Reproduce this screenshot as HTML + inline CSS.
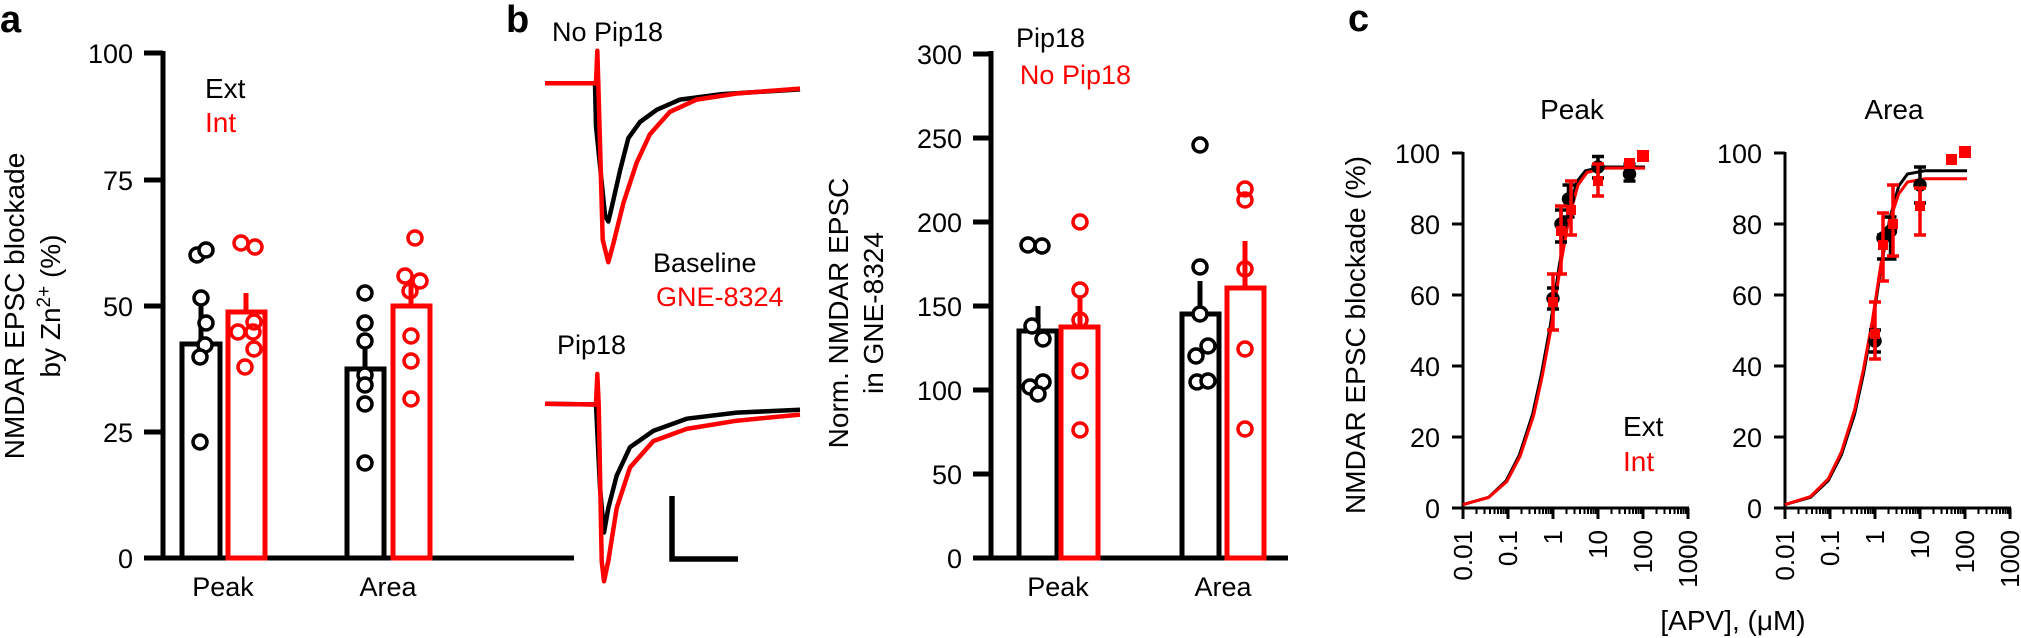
<!DOCTYPE html>
<html><head><meta charset="utf-8"><style>
html,body{margin:0;padding:0;background:#fff;}
svg{display:block;}
text{font-family:"Liberation Sans",Arial,sans-serif;}
</style></head><body>
<svg width="2021" height="638" viewBox="0 0 2021 638" xmlns="http://www.w3.org/2000/svg">
<!-- Panel a -->
<text x="0" y="32" font-size="38" font-weight="bold">a</text>
<g stroke="#000" stroke-width="5" fill="none">
<line x1="163" y1="51" x2="163" y2="560"/>
<line x1="144" y1="53" x2="163" y2="53"/><line x1="144" y1="180" x2="163" y2="180"/>
<line x1="144" y1="306" x2="163" y2="306"/><line x1="144" y1="432" x2="163" y2="432"/>
<line x1="144" y1="558" x2="163" y2="558"/>
<line x1="163" y1="558" x2="574" y2="558"/>
</g>
<g font-size="27" text-anchor="end">
<text x="133" y="63">100</text><text x="133" y="190">75</text><text x="133" y="316">50</text><text x="133" y="442">25</text><text x="133" y="568">0</text>
</g>
<text transform="translate(24,306) rotate(-90)" font-size="28" text-anchor="middle">NMDAR EPSC blockade</text>
<text transform="translate(60,306) rotate(-90)" font-size="28" text-anchor="middle">by Zn<tspan dy="-10" font-size="19">2+</tspan><tspan dy="10"> (%)</tspan></text>
<text x="205" y="98" font-size="28">Ext</text>
<text x="205" y="132" font-size="28" fill="#f00">Int</text>
<g fill="none" stroke-width="5">
<rect x="182" y="344" width="38" height="214" stroke="#000"/>
<line x1="201" y1="344" x2="201" y2="298" stroke="#000"/>
<rect x="228" y="312" width="37" height="246" stroke="#f00"/>
<line x1="246" y1="312" x2="246" y2="293" stroke="#f00"/>
<rect x="347" y="369" width="37" height="189" stroke="#000"/>
<line x1="365" y1="369" x2="365" y2="349" stroke="#000"/>
<rect x="393" y="306" width="37" height="252" stroke="#f00"/>
<line x1="411" y1="306" x2="411" y2="285" stroke="#f00"/>
</g>
<g fill="#fff" stroke="#000" stroke-width="3.5">
<circle cx="197" cy="255" r="7"/><circle cx="206" cy="250" r="7"/><circle cx="201" cy="298" r="7"/><circle cx="206" cy="323" r="7"/><circle cx="205" cy="345" r="7"/><circle cx="200" cy="357" r="7"/><circle cx="200" cy="442" r="7"/>
<circle cx="365" cy="293" r="7"/><circle cx="365" cy="323" r="7"/><circle cx="365" cy="341" r="7"/><circle cx="365" cy="375" r="7"/><circle cx="365" cy="385" r="7"/><circle cx="365" cy="404" r="7"/><circle cx="365" cy="463" r="7"/>
</g>
<g fill="none" stroke="#f00" stroke-width="3.5">
<circle cx="241" cy="243" r="7"/><circle cx="255" cy="247" r="7"/><circle cx="254" cy="322" r="7"/><circle cx="238" cy="332" r="7"/><circle cx="253" cy="332" r="7"/><circle cx="254" cy="349" r="7"/><circle cx="245" cy="367" r="7"/>
<circle cx="415" cy="238" r="7"/><circle cx="405" cy="276" r="7"/><circle cx="420" cy="281" r="7"/><circle cx="410" cy="291" r="7"/><circle cx="411" cy="336" r="7"/><circle cx="411" cy="361" r="7"/><circle cx="411" cy="399" r="7"/>
</g>
<text x="223" y="596" font-size="27" text-anchor="middle">Peak</text>
<text x="388" y="596" font-size="27" text-anchor="middle">Area</text>

<!-- Panel b traces -->
<text x="506" y="32" font-size="38" font-weight="bold">b</text>
<text x="552" y="41" font-size="27">No Pip18</text>
<text x="557" y="354" font-size="27">Pip18</text>
<text x="653" y="272" font-size="27">Baseline</text>
<text x="656" y="306" font-size="27" fill="#f00">GNE-8324</text>
<g fill="none" stroke-width="4.5" stroke-linejoin="round">
<path d="M545,83.3 L595,83.3 L596,126 L605,215.4 L608.3,221.5 L611.7,207.3 L620,170.7 L628.3,138.2 L640,122 L656.7,109.8 L680,99.6 L720,94.3 L800,89.4" stroke="#000"/>
<path d="M545,83.3 L596,83.3 L597.3,50.8 L598.3,83.3 L602.7,239.8 L608.3,262.2 L613.3,243.9 L623.3,203.3 L636.7,162.6 L650,134.1 L670,111.8 L696.7,99.6 L736.7,93.5 L800,88.6" stroke="#f00"/>
<path d="M545,403.7 L596,404.5 L600,487.8 L604,532.5 L608.3,508.1 L616.7,475.6 L630,447.2 L653.3,430.9 L686.7,418.7 L736.7,412.6 L800,409.8" stroke="#000"/>
<path d="M545,403.7 L596,404.5 L597.3,374 L598.7,404.5 L601.7,561 L604,581.3 L608.3,561 L616.7,508.1 L630,467.5 L653.3,441.1 L686.7,428.9 L736.7,420.7 L800,414.6" stroke="#f00"/>
</g>
<path d="M672,496 L672,559 L738,559" fill="none" stroke="#000" stroke-width="5.5"/>

<!-- Panel b bars -->
<g stroke="#000" stroke-width="5" fill="none">
<line x1="991" y1="51" x2="991" y2="560"/>
<line x1="973" y1="54" x2="991" y2="54"/><line x1="973" y1="138" x2="991" y2="138"/>
<line x1="973" y1="222" x2="991" y2="222"/><line x1="973" y1="306" x2="991" y2="306"/>
<line x1="973" y1="390" x2="991" y2="390"/><line x1="973" y1="474" x2="991" y2="474"/>
<line x1="973" y1="558" x2="991" y2="558"/>
<line x1="991" y1="558" x2="1288" y2="558"/>
</g>
<g font-size="27" text-anchor="end">
<text x="962" y="64">300</text><text x="962" y="148">250</text><text x="962" y="232">200</text><text x="962" y="316">150</text><text x="962" y="400">100</text><text x="962" y="484">50</text><text x="962" y="568">0</text>
</g>
<text transform="translate(848,313) rotate(-90)" font-size="28" text-anchor="middle">Norm. NMDAR EPSC</text>
<text transform="translate(883,313) rotate(-90)" font-size="28" text-anchor="middle">in GNE-8324</text>
<text x="1085" y="47" font-size="27" text-anchor="end">Pip18</text>
<text x="1131" y="84" font-size="27" text-anchor="end" fill="#f00">No Pip18</text>
<g fill="none" stroke-width="5">
<rect x="1019" y="331" width="38" height="227" stroke="#000"/>
<line x1="1038" y1="331" x2="1038" y2="306" stroke="#000"/>
<rect x="1061" y="327" width="37" height="231" stroke="#f00"/>
<line x1="1080" y1="327" x2="1080" y2="298" stroke="#f00"/>
<rect x="1182" y="314" width="37" height="244" stroke="#000"/>
<line x1="1200" y1="314" x2="1200" y2="281" stroke="#000"/>
<rect x="1227" y="288" width="37" height="270" stroke="#f00"/>
<line x1="1245" y1="288" x2="1245" y2="241" stroke="#f00"/>
</g>
<g fill="#fff" stroke="#000" stroke-width="3.5">
<circle cx="1028" cy="245" r="7"/><circle cx="1042" cy="246" r="7"/><circle cx="1032" cy="326" r="7"/><circle cx="1043" cy="339" r="7"/><circle cx="1043" cy="382" r="7"/><circle cx="1030" cy="387" r="7"/><circle cx="1038" cy="394" r="7"/>
<circle cx="1200" cy="145" r="7"/><circle cx="1200" cy="267" r="7"/><circle cx="1200" cy="314" r="7"/><circle cx="1208" cy="346" r="7"/><circle cx="1196" cy="356" r="7"/><circle cx="1197" cy="382" r="7"/><circle cx="1208" cy="381" r="7"/>
</g>
<g fill="none" stroke="#f00" stroke-width="3.5">
<circle cx="1080" cy="222" r="7"/><circle cx="1080" cy="290" r="7"/><circle cx="1080" cy="320" r="7"/><circle cx="1080" cy="371" r="7"/><circle cx="1080" cy="430" r="7"/>
<circle cx="1245" cy="189" r="7"/><circle cx="1245" cy="200" r="7"/><circle cx="1245" cy="269" r="7"/><circle cx="1245" cy="349" r="7"/><circle cx="1245" cy="429" r="7"/>
</g>
<text x="1058" y="596" font-size="27" text-anchor="middle">Peak</text>
<text x="1223" y="596" font-size="27" text-anchor="middle">Area</text>

<!-- Panel c -->
<text x="1348" y="31" font-size="38" font-weight="bold">c</text>
<text transform="translate(1365,335) rotate(-90)" font-size="28" text-anchor="middle">NMDAR EPSC blockade (%)</text>
<text x="1733" y="630" font-size="28" text-anchor="middle">[APV], (μM)</text>
<text x="1623" y="436" font-size="28">Ext</text>
<text x="1623" y="471" font-size="28" fill="#f00">Int</text>
<text x="1572" y="119" font-size="28" text-anchor="middle">Peak</text>
<text x="1894" y="119" font-size="28" text-anchor="middle">Area</text>

<g id="sub">
<g stroke="#000" stroke-width="3" fill="none">
<line x1="1463" y1="152" x2="1463" y2="519"/>
<line x1="1452" y1="153" x2="1463" y2="153"/><line x1="1452" y1="224" x2="1463" y2="224"/>
<line x1="1452" y1="295" x2="1463" y2="295"/><line x1="1452" y1="366" x2="1463" y2="366"/>
<line x1="1452" y1="437" x2="1463" y2="437"/><line x1="1452" y1="508" x2="1463" y2="508"/>
<line x1="1452" y1="508" x2="1689" y2="508"/>
<path d="M1463,508v11M1508,508v11M1553,508v11M1598,508v11M1643,508v11M1688,508v11"/>
<path stroke-width="2" d="M1476.5,508v6M1484.5,508v6M1490,508v6M1494.5,508v6M1498,508v6M1501,508v6M1503.5,508v6M1505.9,508v6M1521.5,508v6M1529.5,508v6M1535,508v6M1539.5,508v6M1543,508v6M1546,508v6M1548.5,508v6M1550.9,508v6M1566.5,508v6M1574.5,508v6M1580,508v6M1584.5,508v6M1588,508v6M1591,508v6M1593.5,508v6M1595.9,508v6M1611.5,508v6M1619.5,508v6M1625,508v6M1629.5,508v6M1633,508v6M1636,508v6M1638.5,508v6M1640.9,508v6M1656.5,508v6M1664.5,508v6M1670,508v6M1674.5,508v6M1678,508v6M1681,508v6M1683.5,508v6M1685.9,508v6"/>
</g>
<g font-size="27" text-anchor="end">
<text x="1440" y="163">100</text><text x="1440" y="234">80</text><text x="1440" y="305">60</text><text x="1440" y="376">40</text><text x="1440" y="447">20</text><text x="1440" y="518">0</text>
</g>
<g font-size="26" text-anchor="end">
<text transform="translate(1472,530) rotate(-90)">0.01</text>
<text transform="translate(1517,530) rotate(-90)">0.1</text>
<text transform="translate(1562,530) rotate(-90)">1</text>
<text transform="translate(1607,530) rotate(-90)">10</text>
<text transform="translate(1652,530) rotate(-90)">100</text>
<text transform="translate(1697,530) rotate(-90)">1000</text>
</g>
</g>
<use href="#sub" transform="translate(322,0)"/>

<!-- curves left -->
<g fill="none" stroke-width="3">
<path d="M1463,504.6 L1488.6,497.3 L1506.2,480.7 L1519.4,454.9 L1532.6,414.2 L1541.5,373.7 L1550.3,325.7 L1559.1,266.6 L1567.9,215 L1576.7,181.8 L1585.5,170.7 L1603.1,167 L1645,167" stroke="#000"/>
<path d="M1463,504.6 L1488.6,497.5 L1506.8,481.5 L1520.2,456 L1533.6,415.5 L1542.5,375 L1551.3,327 L1560.1,268 L1569,218 L1578,185 L1587,172.5 L1604,168.1 L1645,168.1" stroke="#f00"/>
</g>
<g stroke="#000" stroke-width="3.5" fill="#000">
<path d="M1553,309v-21M1547,309h12M1547,288h12M1561,242v-32M1555,242h12M1555,210h12M1568.5,217v-32M1562.5,217h12M1562.5,185h12M1598,178v-21.5M1592,178h12M1592,156.5h12M1629.5,181v-17M1623.5,181h12M1623.5,164h12"/>
<circle cx="1553" cy="298.5" r="5"/><circle cx="1561" cy="224" r="5"/><circle cx="1568.5" cy="199" r="5"/><circle cx="1598" cy="167" r="5"/><circle cx="1629.5" cy="174" r="5"/>
</g>
<g stroke="#f00" stroke-width="3.5" fill="#f00">
<path d="M1553,330v-56M1547,330h12M1547,274h12M1561,274v-68M1555,274h12M1555,206h12M1571,235v-54M1565,235h12M1565,181h12M1598,196v-32M1592,196h12M1592,164h12"/>
<rect x="1548" y="297" width="10" height="10" stroke="none"/><rect x="1556" y="226" width="10" height="10" stroke="none"/><rect x="1566" y="205" width="10" height="10" stroke="none"/><rect x="1593" y="176" width="10" height="10" stroke="none"/><rect x="1624" y="158" width="11" height="11" stroke="none"/><rect x="1637" y="150" width="12" height="12" stroke="none"/>
</g>

<!-- curves right -->
<g fill="none" stroke-width="3">
<path d="M1785,504.6 L1810.6,497.3 L1828.2,480.7 L1841.4,454.9 L1854.6,414.2 L1863.5,373.7 L1872.3,325.7 L1881.1,266.6 L1889.9,218 L1898.7,186 L1907.5,174 L1925.1,170.7 L1967,170.7" stroke="#000"/>
<path d="M1785,504.6 L1810.6,496.5 L1828.2,479 L1841.4,452 L1854.6,410 L1863.5,369 L1872.3,321 L1881.1,263 L1889.9,220 L1898.7,194 L1907.5,182 L1925.1,178.8 L1967,178.8" stroke="#f00"/>
</g>
<g stroke="#000" stroke-width="3.5" fill="#000">
<path d="M1875,352v-22M1869,352h12M1869,330h12M1883,259v-24M1877,259h12M1877,235h12M1890.5,259v-42M1884.5,259h12M1884.5,217h12M1920,203v-36M1914,203h12M1914,167h12"/>
<circle cx="1875" cy="341" r="5"/><circle cx="1883" cy="238" r="5"/><circle cx="1890.5" cy="231" r="5"/><circle cx="1920" cy="185" r="5"/>
</g>
<g stroke="#f00" stroke-width="3.5" fill="#f00">
<path d="M1875,359v-57M1869,359h12M1869,302h12M1883,281v-68M1877,281h12M1877,213h12M1893,256v-71M1887,256h12M1887,185h12M1920,235v-47M1914,235h12M1914,188h12"/>
<rect x="1870" y="329" width="10" height="10" stroke="none"/><rect x="1878" y="240" width="10" height="10" stroke="none"/><rect x="1888" y="219" width="10" height="10" stroke="none"/><rect x="1915" y="201" width="10" height="10" stroke="none"/><rect x="1946" y="154" width="11" height="11" stroke="none"/><rect x="1959" y="146" width="12" height="12" stroke="none"/>
</g>
</svg>
</body></html>
